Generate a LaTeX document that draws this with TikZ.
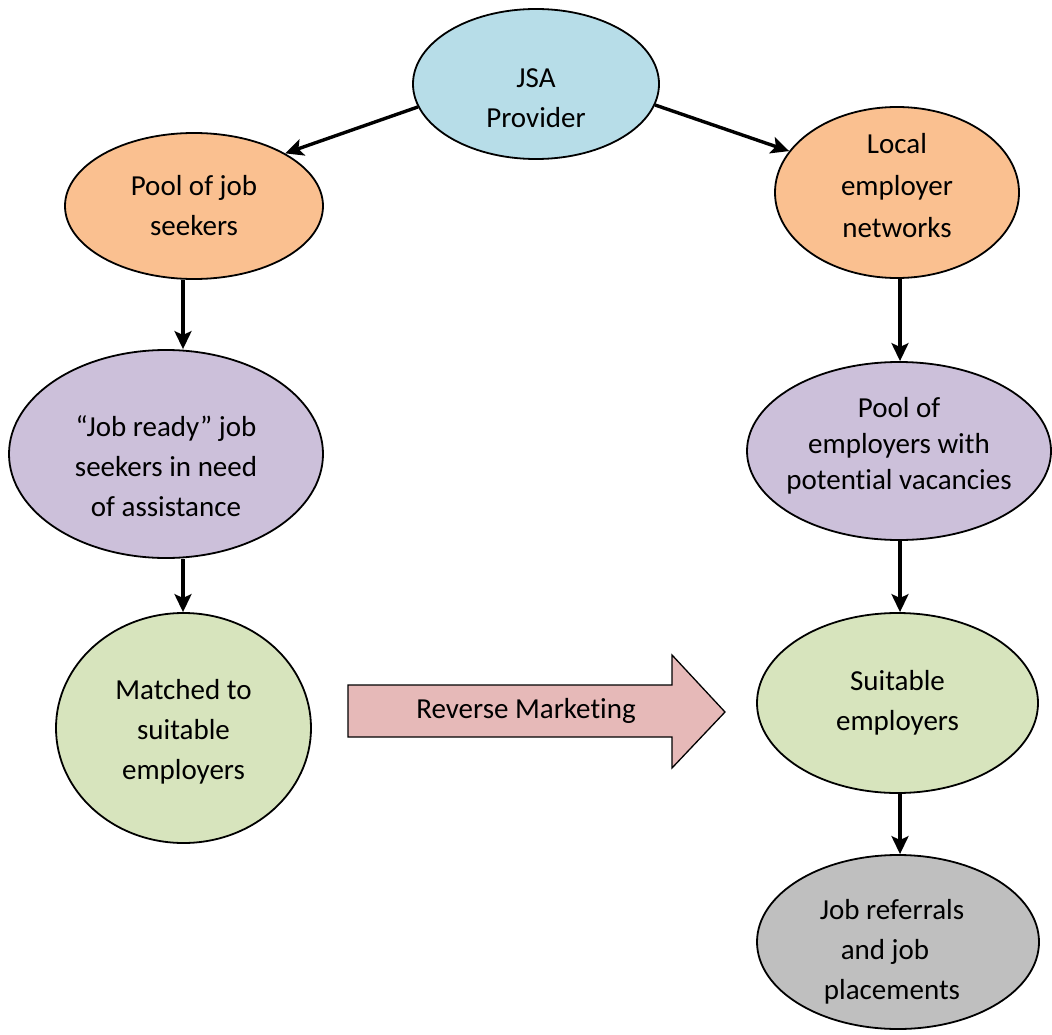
\documentclass[tikz,border=0pt]{standalone}
\usepackage{fontspec}
\setmainfont{Carlito}[Ligatures={NoCommon,NoContextual,NoRequired}]
\usetikzlibrary{shapes.geometric,arrows.meta}
\definecolor{cblue}{HTML}{B7DDE8}
\definecolor{corange}{HTML}{FAC090}
\definecolor{cpurple}{HTML}{CCC0DA}
\definecolor{cgreen}{HTML}{D7E4BD}
\definecolor{cgray}{HTML}{BFBFBF}
\definecolor{cpink}{HTML}{E6B9B8}
\tikzset{
  bubble/.style={ellipse, draw=black, line width=1.8pt, inner sep=0pt},
  txt/.style={align=center, font=\fontsize{29pt}{40pt}\selectfont, inner sep=0pt, text=black},
  conn/.style={line width=3.4pt, -{Stealth[length=18pt,width=17pt,inset=4pt]}},
  blockarrow/.style={fill=cpink, draw=black, line width=1.3pt, line join=miter},
}
\begin{document}
\begin{tikzpicture}[x=1pt,y=-1pt]
\path[use as bounding box, fill=white] (0,0) rectangle (1052,1035);

% ellipses
\node[bubble, fill=cblue, minimum width=246pt, minimum height=150pt,
  label={[txt, name=jsaT, yshift=-14pt]center:JSA\\Provider}] (jsa) at (536,84) {};
\node[bubble, fill=corange, minimum width=258pt, minimum height=146pt,
  label={[txt, name=pjT]center:Pool of job\\seekers}] (pj) at (194,206) {};
\node[bubble, fill=corange, minimum width=244pt, minimum height=171pt,
  label={[txt, name=locT, yshift=7pt, font=\fontsize{29pt}{42pt}\selectfont]center:Local\\employer\\networks}] (loc) at (897,192.5) {};
\node[bubble, fill=cpurple, minimum width=314pt, minimum height=208pt,
  label={[txt, name=jrT, yshift=-12pt]center:“Job ready” job\\seekers in need\\of assistance}] (jr) at (166,454) {};
\node[bubble, fill=cpurple, minimum width=304pt, minimum height=178pt,
  label={[txt, name=peT, yshift=5pt, font=\fontsize{29pt}{36pt}\selectfont]center:Pool of\\employers with\\potential vacancies}] (pe) at (899,451) {};
\node[bubble, fill=cgreen, minimum width=255pt, minimum height=230pt,
  label={[txt, name=maT, yshift=-4pt]center:Matched to\\suitable\\employers}] (ma) at (183.5,728) {};
\node[bubble, fill=cgreen, minimum width=281pt, minimum height=180pt,
  label={[txt, name=seT]center:Suitable\\employers}] (se) at (897.5,703) {};
\node[bubble, fill=cgray, minimum width=282pt, minimum height=174pt,
  label={[txt, name=refT, yshift=-10pt, xshift=-6pt]center:Job referrals\\and job\rule{14pt}{0pt}\\placements}] (ref) at (898,942) {};

% block arrow
\draw[blockarrow] (348,685) -- (672,685) -- (672,655) -- (725,712) -- (672,768) -- (672,737) -- (348,737) -- cycle;
\node[txt] (rm) at (526,711) {Reverse Marketing};

% connectors
\coordinate (cl) at (183,0);
\coordinate (cr) at (900,0);
\draw[conn] (jsa.191) -- (pj.30);
\draw[conn] (jsa.-10) -- (loc.159);
\draw[conn] (pj.south -| cl) -- (jr.north -| cl);
\draw[conn] (jr.south -| cl) -- (ma.north -| cl);
\draw[conn] (loc.south -| cr) -- (pe.north -| cr);
\draw[conn] (pe.south -| cr) -- (se.north -| cr);
\draw[conn] (se.south -| cr) -- (ref.north -| cr);
\end{tikzpicture}
\end{document}
